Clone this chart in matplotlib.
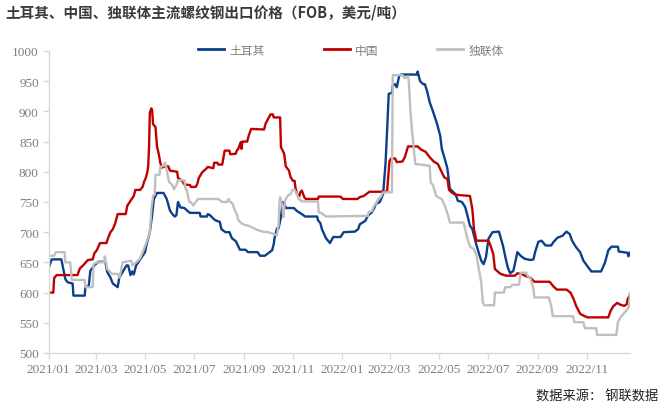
import matplotlib
matplotlib.use("Agg")
import matplotlib.pyplot as plt
import pandas as pd

# ---------------- data ----------------
tr_dates = ["2021-01-01","2021-01-05","2021-01-17","2021-01-20","2021-01-22","2021-01-25","2021-01-31","2021-02-01",
            "2021-02-15","2021-02-16","2021-02-20","2021-02-22","2021-02-27","2021-03-04","2021-03-12","2021-03-13",
            "2021-03-15","2021-03-19","2021-03-22","2021-03-25","2021-03-28","2021-03-30","2021-04-04","2021-04-08",
            "2021-04-10","2021-04-13","2021-04-15","2021-04-17","2021-04-20","2021-04-25","2021-05-01","2021-05-03",
            "2021-05-07","2021-05-10","2021-05-12","2021-05-16","2021-05-24","2021-05-28","2021-06-01","2021-06-04",
            "2021-06-07","2021-06-09","2021-06-11","2021-06-14","2021-06-19","2021-06-23","2021-06-26","2021-07-08",
            "2021-07-09","2021-07-17","2021-07-18","2021-07-21","2021-07-23","2021-07-27","2021-08-02","2021-08-04",
            "2021-08-09","2021-08-14","2021-08-17","2021-08-22","2021-08-27","2021-09-03","2021-09-06","2021-09-18",
            "2021-09-21","2021-09-27","2021-10-01","2021-10-06","2021-10-08","2021-10-09","2021-10-12","2021-10-14",
            "2021-10-17","2021-10-19","2021-10-22","2021-10-23","2021-11-02","2021-11-06","2021-11-12","2021-11-16",
            "2021-12-01","2021-12-02","2021-12-05","2021-12-07","2021-12-12","2021-12-17","2021-12-21","2021-12-30",
            "2022-01-03","2022-01-17","2022-01-21","2022-01-23","2022-01-30","2022-02-02","2022-02-07","2022-02-10",
            "2022-02-12","2022-02-17","2022-02-21","2022-02-24","2022-02-26","2022-02-28","2022-03-02","2022-03-04",
            "2022-03-05","2022-03-08","2022-03-10","2022-03-13","2022-03-15","2022-04-04","2022-04-05","2022-04-08",
            "2022-04-12","2022-04-14","2022-04-17","2022-04-20","2022-04-24","2022-04-29","2022-05-03","2022-05-05",
            "2022-05-09","2022-05-12","2022-05-15","2022-05-22","2022-05-25","2022-05-30","2022-06-03","2022-06-06",
            "2022-06-09","2022-06-12","2022-06-16","2022-06-19","2022-06-23","2022-06-26","2022-06-29","2022-07-02",
            "2022-07-07","2022-07-15","2022-07-20","2022-07-24","2022-07-26","2022-07-29","2022-08-02","2022-08-07",
            "2022-08-11","2022-08-16","2022-08-23","2022-08-27","2022-08-29","2022-09-02","2022-09-06","2022-09-11",
            "2022-09-18","2022-09-21","2022-09-26","2022-10-02","2022-10-07","2022-10-11","2022-10-14","2022-10-19",
            "2022-10-24","2022-10-28","2022-11-03","2022-11-07","2022-11-19","2022-11-24","2022-11-28","2022-12-02",
            "2022-12-10","2022-12-11","2022-12-22","2022-12-23","2022-12-25"]
tr_values = [640,655,655,635,622,617,615,595,
             595,610,610,636,645,651,651,648,
             634,625,615,612,609,625,636,645,
             645,629,635,630,645,655,667,680,
             700,730,755,765,765,755,736,730,
             726,728,750,741,740,735,732,732,
             726,726,730,728,725,720,717,705,
             700,700,690,685,671,671,667,667,
             661,661,665,670,680,690,706,706,
             725,750,745,740,740,735,730,726,
             726,720,715,705,690,682,692,692,
             700,701,705,713,719,727,733,740,
             747,750,763,813,868,929,930,930,
             943,945,940,959,961,961,966,950,
             945,945,932,915,900,880,860,838,
             820,805,772,763,752,750,742,727,
             711,705,684,670,653,647,659,689,
             700,701,678,653,642,632,636,667,
             661,656,654,655,667,684,686,678,
             678,684,691,694,701,697,686,675,
             667,653,642,635,635,650,670,676,
             676,668,666,660,666]

cn_dates = ["2021-01-01","2021-01-07","2021-01-08","2021-01-11","2021-02-06","2021-02-09","2021-02-13","2021-02-19",
            "2021-02-25","2021-02-27","2021-03-02","2021-03-06","2021-03-14","2021-03-16","2021-03-19","2021-03-22",
            "2021-03-25","2021-03-28","2021-04-07","2021-04-09","2021-04-13","2021-04-17","2021-04-19","2021-04-25",
            "2021-04-28","2021-04-30","2021-05-02","2021-05-04","2021-05-05","2021-05-06","2021-05-07","2021-05-09",
            "2021-05-10","2021-05-11","2021-05-14","2021-05-16","2021-05-18","2021-05-20","2021-05-22","2021-05-26",
            "2021-05-30","2021-06-01","2021-06-10","2021-06-11","2021-06-16","2021-06-19","2021-06-26","2021-06-27",
            "2021-07-03","2021-07-05","2021-07-07","2021-07-11","2021-07-16","2021-07-18","2021-07-25","2021-07-26",
            "2021-07-30","2021-07-31","2021-08-05","2021-08-08","2021-08-14","2021-08-15","2021-08-22","2021-08-23",
            "2021-08-25","2021-08-28","2021-08-29","2021-08-30","2021-09-05","2021-09-07","2021-09-10","2021-09-26",
            "2021-09-28","2021-10-02","2021-10-04","2021-10-07","2021-10-08","2021-10-16","2021-10-17","2021-10-21",
            "2021-10-23","2021-10-27","2021-10-29","2021-11-01","2021-11-03","2021-11-04","2021-11-06","2021-11-09",
            "2021-11-10","2021-11-12","2021-11-15","2021-11-17","2021-12-02","2021-12-03","2021-12-30","2022-01-02",
            "2022-01-20","2022-01-23","2022-01-28","2022-02-04","2022-02-26","2022-02-27","2022-03-01","2022-03-03",
            "2022-03-08","2022-03-10","2022-03-17","2022-03-20","2022-03-24","2022-04-05","2022-04-09","2022-04-15",
            "2022-04-20","2022-04-25","2022-04-30","2022-05-04","2022-05-08","2022-05-12","2022-05-14","2022-05-18",
            "2022-05-22","2022-06-09","2022-06-12","2022-06-14","2022-06-17","2022-07-02","2022-07-04","2022-07-08",
            "2022-07-10","2022-07-17","2022-07-24","2022-08-04","2022-08-07","2022-08-12","2022-08-18","2022-08-23",
            "2022-08-28","2022-09-16","2022-09-21","2022-09-25","2022-10-07","2022-10-12","2022-10-16","2022-10-19",
            "2022-10-24","2022-10-28","2022-11-02","2022-11-28","2022-12-01","2022-12-04","2022-12-09","2022-12-13",
            "2022-12-18","2022-12-21","2022-12-22","2022-12-25"]
cn_values = [600,600,624,629,629,640,645,654,
             655,665,670,682,682,690,700,705,
             715,730,730,744,752,760,770,770,
             775,784,790,800,810,840,898,905,
             900,879,874,841,830,815,807,809,
             809,802,800,790,785,779,778,775,
             775,780,790,799,805,808,806,815,
             815,812,812,835,835,829,830,835,
             838,849,838,850,850,860,871,870,
             880,890,895,895,890,890,841,830,
             809,802,791,785,785,774,763,760,
             766,769,758,755,755,759,759,755,
             755,758,760,767,767,785,818,822,
             822,816,817,824,842,842,837,833,
             824,817,813,802,791,788,770,765,
             762,760,738,705,686,686,680,664,
             639,631,628,628,632,631,627,625,
             618,618,610,605,605,600,589,578,
             565,562,559,559,570,577,583,580,
             578,581,589,596]

cis_dates = ["2021-01-01","2021-01-08","2021-01-10","2021-01-21","2021-01-22","2021-01-28","2021-01-30","2021-02-15",
             "2021-02-16","2021-02-25","2021-02-26","2021-03-02","2021-03-11","2021-03-12","2021-03-15","2021-03-18",
             "2021-03-21","2021-03-28","2021-03-30","2021-04-01","2021-04-03","2021-04-14","2021-04-15","2021-04-20",
             "2021-04-24","2021-04-26","2021-04-29","2021-05-02","2021-05-07","2021-05-09","2021-05-11","2021-05-13",
             "2021-05-14","2021-05-19","2021-05-20","2021-05-24","2021-05-26","2021-05-28","2021-05-31","2021-06-04",
             "2021-06-06","2021-06-09","2021-06-11","2021-06-19","2021-06-20","2021-06-22","2021-06-25","2021-06-27",
             "2021-06-30","2021-07-03","2021-07-06","2021-07-31","2021-08-05","2021-08-11","2021-08-13","2021-08-15",
             "2021-08-18","2021-08-20","2021-08-23","2021-08-25","2021-08-28","2021-08-31","2021-09-06","2021-09-11",
             "2021-09-17","2021-09-24","2021-10-01","2021-10-06","2021-10-12","2021-10-14","2021-10-15","2021-10-16",
             "2021-10-19","2021-10-20","2021-10-22","2021-10-25","2021-10-29","2021-10-31","2021-11-03","2021-11-06",
             "2021-11-08","2021-11-12","2021-12-02","2021-12-03","2021-12-06","2021-12-12","2022-02-02","2022-02-03",
             "2022-02-07","2022-02-10","2022-02-12","2022-02-15","2022-02-18","2022-02-21","2022-03-04","2022-03-05",
             "2022-03-17","2022-03-20","2022-03-24","2022-03-25","2022-03-27","2022-03-29","2022-04-02","2022-04-20",
             "2022-04-21","2022-04-24","2022-04-28","2022-05-03","2022-05-05","2022-05-09","2022-05-13","2022-05-15",
             "2022-06-01","2022-06-03","2022-06-06","2022-06-09","2022-06-14","2022-06-17","2022-06-20","2022-06-23",
             "2022-06-25","2022-06-27","2022-07-09","2022-07-10","2022-07-21","2022-07-23","2022-07-29","2022-08-01",
             "2022-08-09","2022-08-11","2022-08-18","2022-08-20","2022-08-23","2022-08-27","2022-08-28","2022-09-15",
             "2022-09-18","2022-09-20","2022-10-15","2022-10-17","2022-10-28","2022-10-30","2022-11-13","2022-11-14",
             "2022-12-08","2022-12-10","2022-12-13","2022-12-17","2022-12-22","2022-12-24","2022-12-25"]
cis_values = [661,661,667,667,650,650,621,621,
              609,609,647,650,650,660,639,635,
              631,631,625,635,650,653,645,650,
              655,660,670,680,700,740,760,762,
              795,795,808,810,815,802,783,778,
              771,778,786,786,774,769,750,750,
              744,750,755,755,750,750,755,750,
              747,738,730,720,716,713,711,708,
              704,701,700,698,695,711,747,758,
              741,725,752,760,763,770,770,763,
              755,751,751,733,732,726,727,733,
              735,744,747,755,758,766,766,960,
              960,955,958,950,901,868,813,810,
              783,778,760,756,755,743,727,716,
              716,705,689,676,672,662,639,617,
              584,579,579,600,600,609,609,613,
              613,633,633,627,625,606,592,592,
              578,561,561,551,551,541,541,530,
              530,551,559,565,573,578,599]

series_names = ["土耳其", "中国", "独联体"]
series_colors = ["#0B3F8C", "#C00000", "#BFBFBF"]
y_ticks = list(range(500, 1001, 50))
x_tick_dates = ["2021-01-01","2021-03-01","2021-05-01","2021-07-01","2021-09-01","2021-11-01",
                "2022-01-01","2022-03-01","2022-05-01","2022-07-01","2022-09-01","2022-11-01"]
x_tick_labels = ["2021/01","2021/03","2021/05","2021/07","2021/09","2021/11",
                 "2022/01","2022/03","2022/05","2022/07","2022/09","2022/11"]
title = "土耳其、中国、独联体主流螺纹钢出口价格（FOB，美元/吨）"
source = "数据来源： 钢联数据"

# ---------------- plot ----------------
plt.rcParams['font.family'] = ['Noto Sans CJK SC', 'DejaVu Sans']
W, H = 662, 406
fig = plt.figure(figsize=(W/100, H/100), dpi=100)
ax = fig.add_axes([48.5/W, 1-354/H, (630-48.5)/W, (354-52)/H])

for d, v, name, c in [(tr_dates, tr_values, series_names[0], series_colors[0]),
                      (cn_dates, cn_values, series_names[1], series_colors[1]),
                      (cis_dates, cis_values, series_names[2], series_colors[2])]:
    ax.plot(pd.to_datetime(d), v, color=c, lw=1.7, label=name, solid_joinstyle='round')

ax.set_ylim(500, 1000)
ax.set_yticks(y_ticks)
ax.set_xlim(pd.Timestamp("2021-01-01"), pd.Timestamp("2022-12-25"))
ax.set_xticks(pd.to_datetime(x_tick_dates))
ax.set_xticklabels(x_tick_labels)

for s in ["top", "right"]:
    ax.spines[s].set_visible(False)
for s in ["left", "bottom"]:
    ax.spines[s].set_color("#D9D9D9")
    ax.spines[s].set_linewidth(1.0)

ax.tick_params(axis='both', colors="#D9D9D9", length=4, width=1.0)
for lab in ax.get_xticklabels() + ax.get_yticklabels():
    lab.set_fontfamily("Liberation Serif")
    lab.set_fontsize(9.5)
    lab.set_color("#7F7F7F")
ax.tick_params(axis='x', pad=3)
ax.tick_params(axis='y', pad=3)

leg = fig.legend(loc='center', bbox_to_anchor=(351/W, 1-51/H), ncol=3, frameon=False,
                 handlelength=2.2, handletextpad=0.45, columnspacing=5.0,
                 prop={'family': ['Noto Sans CJK SC', 'DejaVu Sans'], 'size': 8.5})
for t in leg.get_texts():
    t.set_color("#7F7F7F")
for l in leg.get_lines():
    l.set_linewidth(2.0)

fig.text(5/W, 1-13/H, title, ha='left', va='center', fontsize=10.5, fontweight='bold', color="#3A3A3A")
fig.text(658/W, 1-397/H, source, ha='right', va='center', fontsize=9.5, color="#222222")

fig.savefig("out.png", dpi=100)
